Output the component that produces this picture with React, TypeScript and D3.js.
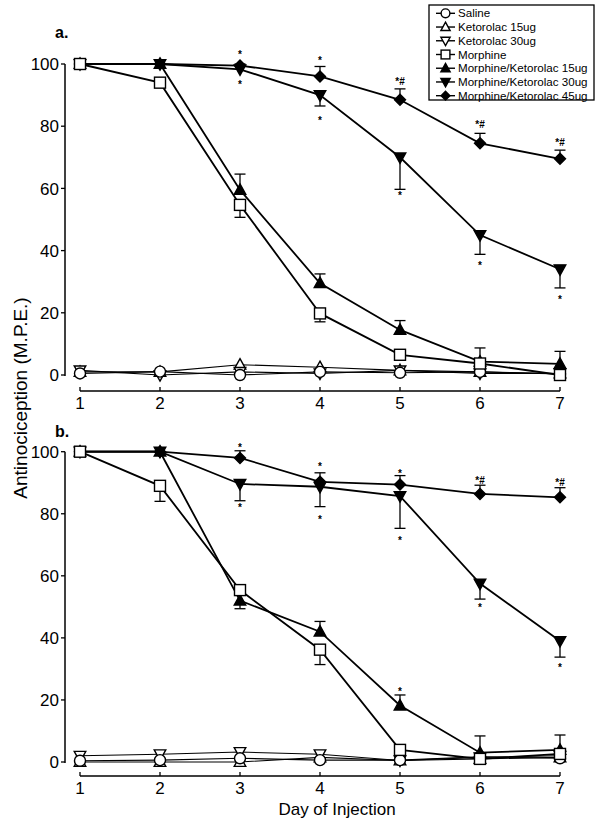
import React from "react";
import * as d3 from "d3";

const days = [1, 2, 3, 4, 5, 6, 7];
const yTicks = [0, 20, 40, 60, 80, 100];
const seriesLabels = [
  "Saline",
  "Ketorolac 15ug",
  "Ketorolac 30ug",
  "Morphine",
  "Morphine/Ketorolac 15ug",
  "Morphine/Ketorolac 30ug",
  "Morphine/Ketorolac 45ug",
];
const seriesMarkers = ["circle", "triUp", "triDown", "square", "triUpFilled", "triDownFilled", "diamond"];

// Panel a values
const salineA = [0.5, 1.1, 0, 1, 0.7, 1, 0.3];
const ketorolac15A = [1, 1, 3.3, 2.5, 1.5, 1, 0.5];
const ketorolac30A = [1.5, 0, 1, 0.5, 1.5, 0.5, 0.5];
const morphineA = [100, 94, 54.7, 19.8, 6.5, 3.7, 0];
const mk15A = [100, 100, 59.5, 29.5, 14.5, 4.3, 3.6];
const mk30A = [100, 100, 98.3, 90, 70, 45, 34];
const mk45A = [100, 100, 99.5, 96, 88.5, 74.5, 69.5];
// one-sided errors: positive = up, negative = down
const morphineErrA = [0, 0, -4, -2.7, 0, 0, 0];
const mk15ErrA = [0, 0, 5.1, 3, 3, 4.4, 4];
const mk30ErrA = [0, 0, 0, -3.5, -10.3, -6.2, -6];
const mk45ErrA = [0, 0, 0.5, 3.2, 3.5, 3.2, 2.8];
const starDaysA = [3, 3, 4, 4, 5, 5, 6, 6, 7, 7];
const starValsA = [103.9, 94.2, 102, 82.6, 94.5, 58.5, 80.7, 36, 75, 25.2];
const starTextA = ["*", "*", "*", "*", "*#", "*", "*#", "*", "*#", "*"];

// Panel b values
const salineB = [0.4, 0.6, 1.2, 0.6, 0.6, 1.7, 1.2];
const ketorolac15B = [0, 0, 0, 1.5, 0.5, 1, 1.5];
const ketorolac30B = [2, 2.5, 3.2, 2.5, 0.5, 1.5, 2];
const morphineB = [100, 89, 55.4, 36.2, 3.9, 1, 2.6];
const mk15B = [100, 100, 52, 42, 18.2, 3, 3.9];
const mk30B = [100, 100, 89.6, 88.7, 85.7, 57.5, 39];
const mk45B = [100, 100, 98, 90.3, 89.4, 86.4, 85.3];
const morphineErrB = [0, -5, 0, -4.8, 0, 0, 0];
const mk15ErrB = [0, 0, -2.6, 3.3, 3.4, 5.4, 4.8];
const mk30ErrB = [0, 0, -5.4, -6.4, -10.4, -5, -5.2];
const mk45ErrB = [0, 0, 2.3, 2.9, 2.9, 2.8, 3.1];
const starDaysB = [3, 3, 4, 4, 5, 5, 5, 6, 6, 7, 7];
const starValsB = [102.2, 82.8, 96, 79, 93.8, 72.2, 23.5, 90.9, 50.6, 90.3, 31.3];
const starTextB = ["*", "*", "*", "*", "*", "*", "*", "*#", "*", "*#", "*"];

const FONT = "'Liberation Sans', Arial, Helvetica, sans-serif";

type Series = { name: string; marker: string; values: number[]; err?: number[] };

function buildSeries(vals: number[][], errs: (number[] | undefined)[]): Series[] {
  return seriesLabels.map((name, i) => ({ name, marker: seriesMarkers[i], values: vals[i], err: errs[i] }));
}

const panelASeries = buildSeries(
  [salineA, ketorolac15A, ketorolac30A, morphineA, mk15A, mk30A, mk45A],
  [undefined, undefined, undefined, morphineErrA, mk15ErrA, mk30ErrA, mk45ErrA]
);
const panelBSeries = buildSeries(
  [salineB, ketorolac15B, ketorolac30B, morphineB, mk15B, mk30B, mk45B],
  [undefined, undefined, undefined, morphineErrB, mk15ErrB, mk30ErrB, mk45ErrB]
);

function Marker({ type, x, y, k = 1 }: { type: string; x: number; y: number; k?: number }) {
  const s = 5.5 * k;
  const sw = 1.4;
  switch (type) {
    case "circle":
      return <circle cx={x} cy={y} r={s} fill="#fff" stroke="#000" strokeWidth={sw} />;
    case "square":
      return <rect x={x - s} y={y - s} width={2 * s} height={2 * s} fill="#fff" stroke="#000" strokeWidth={sw} />;
    case "triUp":
    case "triUpFilled": {
      const f = type === "triUp" ? "#fff" : "#000";
      return (
        <polygon
          points={`${x},${y - s * 1.1} ${x + s * 1.05},${y + s * 0.8} ${x - s * 1.05},${y + s * 0.8}`}
          fill={f}
          stroke="#000"
          strokeWidth={sw}
        />
      );
    }
    case "triDown":
    case "triDownFilled": {
      const f = type === "triDown" ? "#fff" : "#000";
      return (
        <polygon
          points={`${x},${y + s * 1.1} ${x + s * 1.05},${y - s * 0.8} ${x - s * 1.05},${y - s * 0.8}`}
          fill={f}
          stroke="#000"
          strokeWidth={sw}
        />
      );
    }
    case "diamond":
      return (
        <polygon
          points={`${x},${y - s} ${x + s},${y} ${x},${y + s} ${x - s},${y}`}
          fill="#000"
          stroke="#000"
          strokeWidth={sw}
        />
      );
  }
  return null;
}

const x = d3.scaleLinear().domain([1, 7]).range([80, 560]);

function Panel({
  series,
  y0,
  y100,
  axisY,
  label,
  labelY,
  starDays,
  starVals,
  starText,
}: {
  series: Series[];
  y0: number;
  y100: number;
  axisY: number;
  label: string;
  labelY: number;
  starDays: number[];
  starVals: number[];
  starText: string[];
}) {
  const y = d3.scaleLinear().domain([0, 100]).range([y0, y100]);
  const line = d3
    .line<number>()
    .x((_, i) => x(days[i]))
    .y((v) => y(v));
  const drawOrder = [1, 2, 0, 4, 5, 6, 3];
  return (
    <g>
      <text x={55} y={labelY} fontFamily={FONT} fontWeight="bold" fontSize={16}>
        {label}
      </text>
      {/* y axis */}
      <line x1={65} x2={65} y1={y(100)} y2={y(0) + 1} stroke="#000" strokeWidth={1.5} />
      {yTicks.map((t) => (
        <g key={t}>
          <line x1={61} x2={65} y1={y(t)} y2={y(t)} stroke="#000" strokeWidth={1.3} />
          <text x={59} y={y(t)} dy="0.36em" textAnchor="end" fontFamily={FONT} fontSize={17}>
            {t}
          </text>
        </g>
      ))}
      {/* x axis */}
      <line x1={x(1)} x2={x(7)} y1={axisY} y2={axisY} stroke="#000" strokeWidth={1.5} />
      {days.map((d) => (
        <g key={d}>
          <line x1={x(d)} x2={x(d)} y1={axisY} y2={axisY - 4} stroke="#000" strokeWidth={1.3} />
          <text x={x(d)} y={axisY + 18} textAnchor="middle" fontFamily={FONT} fontSize={17}>
            {d}
          </text>
        </g>
      ))}
      {/* lines */}
      {series.map((s, i) => (
        <path
          key={s.name}
          d={line(s.values) || ""}
          fill="none"
          stroke="#000"
          strokeWidth={i < 3 ? 1.1 : 1.8}
        />
      ))}
      {/* error bars */}
      {series.map((s) =>
        s.err
          ? s.err.map((e, j) =>
              e !== 0 ? (
                <g key={s.name + j}>
                  <line
                    x1={x(days[j])}
                    x2={x(days[j])}
                    y1={y(s.values[j])}
                    y2={y(s.values[j] + e)}
                    stroke="#000"
                    strokeWidth={1.3}
                  />
                  <line
                    x1={x(days[j]) - 5.5}
                    x2={x(days[j]) + 5.5}
                    y1={y(s.values[j] + e)}
                    y2={y(s.values[j] + e)}
                    stroke="#000"
                    strokeWidth={1.3}
                  />
                </g>
              ) : null
            )
          : null
      )}
      {/* markers */}
      {drawOrder.map((i) => {
        const s = series[i];
        return (
          <g key={s.name}>
            {s.values.map((v, j) => (
              <Marker key={j} type={s.marker} x={x(days[j])} y={y(v)} />
            ))}
          </g>
        );
      })}
      {/* significance marks */}
      {starDays.map((d, i) => (
        <text
          key={i}
          x={x(d)}
          y={y(starVals[i]) + (starText[i] === "*" ? 6 : 4)}
          textAnchor="middle"
          fontFamily={FONT}
          fontWeight="bold"
          fontSize={10}
        >
          {starText[i]}
        </text>
      ))}
    </g>
  );
}

function Legend() {
  const ly = d3.scaleLinear().domain([0, 6]).range([13.3, 95.7]);
  return (
    <g>
      <rect x={429} y={5} width={165} height={95} fill="#fff" stroke="#000" strokeWidth={1.3} />
      {seriesLabels.map((name, i) => (
        <g key={name}>
          <line x1={436} x2={455} y1={ly(i)} y2={ly(i)} stroke="#000" strokeWidth={1.4} />
          <Marker type={seriesMarkers[i]} x={445.5} y={ly(i)} k={0.8} />
          <text x={458} y={ly(i)} dy="0.36em" fontFamily={FONT} fontSize={11.6}>
            {name}
          </text>
        </g>
      ))}
    </g>
  );
}

export default function App() {
  return (
    <svg
      width={601}
      height={824}
      style={{ position: "absolute", left: 0, top: 0, background: "#fff" }}
    >
      <rect width={601} height={824} fill="#fff" />
      <Panel
        series={panelASeries}
        y0={375}
        y100={64}
        axisY={391}
        label="a."
        labelY={38}
        starDays={starDaysA}
        starVals={starValsA}
        starText={starTextA}
      />
      <Panel
        series={panelBSeries}
        y0={762}
        y100={451.7}
        axisY={776}
        label="b."
        labelY={437}
        starDays={starDaysB}
        starVals={starValsB}
        starText={starTextB}
      />
      <Legend />
      <text
        transform="translate(27,398) rotate(-90)"
        textAnchor="middle"
        fontFamily={FONT}
        fontSize={19}
      >
        Antinociception (M.P.E.)
      </text>
      <text x={337} y={815} textAnchor="middle" fontFamily={FONT} fontSize={17}>
        Day of Injection
      </text>
    </svg>
  );
}
